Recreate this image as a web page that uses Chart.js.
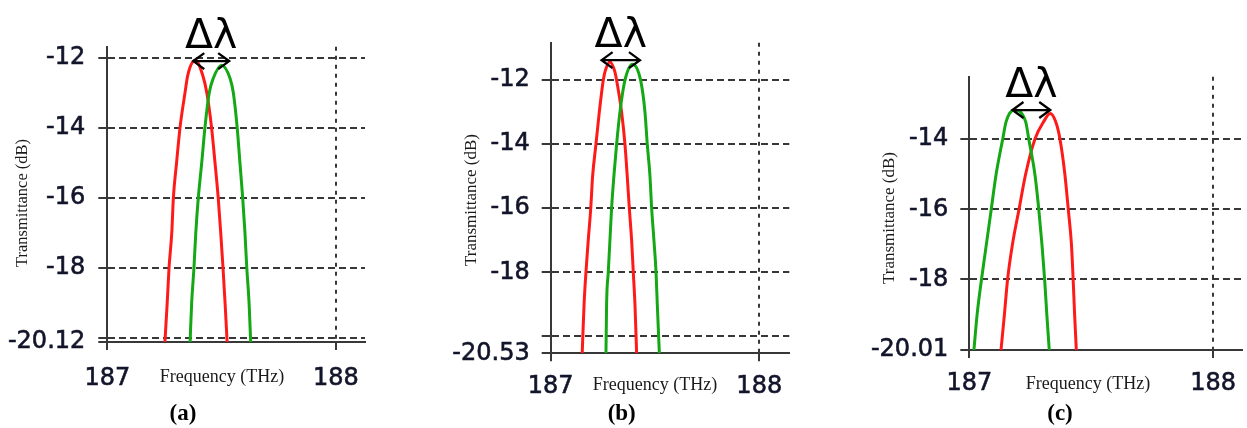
<!DOCTYPE html>
<html>
<head>
<meta charset="utf-8">
<title>Transmittance spectra</title>
<script src="https://cdn.jsdelivr.net/npm/chart.js@4.4.1/dist/chart.umd.min.js"></script>
<style>
    html, body { margin: 0; padding: 0; background: #fff; }
    body { width: 1247px; height: 428px; position: relative; overflow: hidden; }
    canvas { position: absolute; top: 0; }
</style>
</head>
<body>
<canvas id="chartA" width="400" height="428" style="left:0px"></canvas>
<canvas id="chartB" width="400" height="428" style="left:420px"></canvas>
<canvas id="chartC" width="407" height="428" style="left:840px"></canvas>
<script>
// ================= DATA =================

const xTicks = [187, 188];

// panel (a)
const freqA_red = [187.252, 187.262, 187.270, 187.282, 187.289, 187.303, 187.318, 187.340, 187.352, 187.385, 187.417, 187.435, 187.456, 187.471, 187.485, 187.496, 187.506, 187.515, 187.524];
const transA_red = [-20.12, -19, -18, -17, -16, -15, -14, -13, -12.5, -12.08, -12.5, -13, -14, -15, -16, -17, -18, -19, -20.12];
const freqA_green = [187.362, 187.369, 187.379, 187.387, 187.398, 187.413, 187.427, 187.446, 187.463, 187.500, 187.537, 187.551, 187.568, 187.580, 187.592, 187.602, 187.610, 187.620, 187.627];
const transA_green = [-20.12, -19, -18, -17, -16, -15, -14, -13, -12.6, -12.22, -12.6, -13, -14, -15, -16, -17, -18, -19, -20.12];
const yTicksA = [-20.12, -20, -18, -16, -14, -12];
const yLabelsA = ["-20.12", "", "-18", "-16", "-14", "-12"];
const deltaA = [187.376, 187.533];
const deltaLevelA = -12.1;

// panel (b)
const freqB_red = [187.151, 187.160, 187.169, 187.180, 187.192, 187.201, 187.217, 187.233, 187.252, 187.262, 187.284, 187.306, 187.316, 187.340, 187.356, 187.367, 187.377, 187.388, 187.396, 187.404, 187.412];
const transB_red = [-20.53, -19, -18, -17, -16, -15, -14, -13, -12, -11.7, -11.43, -11.7, -12, -13, -14, -15, -16, -17, -18, -19, -20.53];
const freqB_green = [187.265, 187.268, 187.276, 187.284, 187.292, 187.303, 187.316, 187.332, 187.356, 187.393, 187.431, 187.452, 187.463, 187.476, 187.484, 187.495, 187.505, 187.511, 187.521];
const transB_green = [-20.53, -19, -18, -17, -16, -15, -14, -13, -12, -11.5, -12, -13, -14, -15, -16, -17, -18, -19, -20.53];
const yTicksB = [-20.53, -20, -18, -16, -14, -12];
const yLabelsB = ["-20.53", "", "-18", "-16", "-14", "-12"];
const deltaB = [187.244, 187.428];
const deltaLevelB = -11.375;

// panel (c)
const freqC_green = [187.019, 187.032, 187.050, 187.070, 187.090, 187.110, 187.137, 187.151, 187.184, 187.231, 187.244, 187.269, 187.285, 187.298, 187.309, 187.318, 187.328];
const transC_green = [-20.01, -19, -18, -17, -16, -15, -14, -13.5, -13.17, -13.5, -14, -15, -16, -17, -18, -19, -20.01];
const freqC_red = [187.130, 187.144, 187.157, 187.177, 187.204, 187.231, 187.269, 187.305, 187.332, 187.354, 187.372, 187.392, 187.406, 187.419, 187.426, 187.432, 187.439];
const transC_red = [-20.01, -19, -18, -17, -16, -15, -14, -13.5, -13.27, -13.5, -14, -15, -16, -17, -18, -19, -20.01];
const yTicksC = [-20.01, -18, -16, -14];
const yLabelsC = ["-20.01", "-18", "-16", "-14"];
const deltaC = [187.177, 187.332];
const deltaLevelC = -13.17;

// ================= STYLE =================

const TICK_FONT = { family: "'DejaVu Sans', Verdana, sans-serif", size: 24 };
const INK = "#12152a";
const GRID = "#383838";
const RED = "#ff1a1a";
const GREEN = "#14a814";

function toPoints(freqs, vals) {
    return freqs.map((f, i) => ({ x: f, y: vals[i] }));
}

// texts + delta-lambda arrow drawn on top of each panel
const panelText = {
    id: "panelText",
    afterDraw(chart, args, opts) {
        const ctx = chart.ctx;
        const xs = chart.scales.x;
        const ys = chart.scales.y;

        ctx.save();
        ctx.fillStyle = "#1a1a1a";
        ctx.textAlign = "center";
        ctx.textBaseline = "middle";

        // y title
        ctx.save();
        ctx.font = `${opts.yTitleSize}px 'Liberation Serif', 'Times New Roman', serif`;
        ctx.translate(opts.yTitle[0], opts.yTitle[1]);
        ctx.rotate(-Math.PI / 2);
        ctx.fillText("Transmittance (dB)", 0, 0);
        ctx.restore();

        // x title
        ctx.font = "18px 'Liberation Serif', 'Times New Roman', serif";
        ctx.fillText("Frequency (THz)", opts.xTitle[0], opts.xTitle[1]);

        // panel letter
        ctx.fillStyle = "#000";
        ctx.font = "bold 23px 'Liberation Serif', 'Times New Roman', serif";
        ctx.fillText(opts.letter, opts.letterPos[0], opts.letterPos[1]);

        // delta lambda arrow
        const x1 = xs.getPixelForValue(opts.delta[0]);
        const x2 = xs.getPixelForValue(opts.delta[1]);
        const y = ys.getPixelForValue(opts.deltaLevel);
        ctx.strokeStyle = "#000";
        ctx.lineWidth = 2.3;
        ctx.beginPath();
        ctx.moveTo(x1, y);
        ctx.lineTo(x2, y);
        ctx.moveTo(x1 + 11, y - 8);
        ctx.lineTo(x1, y);
        ctx.lineTo(x1 + 11, y + 8);
        ctx.moveTo(x2 - 11, y - 8);
        ctx.lineTo(x2, y);
        ctx.lineTo(x2 - 11, y + 8);
        ctx.stroke();

        ctx.font = "41px 'DejaVu Sans', sans-serif";
        ctx.textBaseline = "alphabetic";
        ctx.fillText("\u0394\u03bb", (x1 + x2) / 2, y - 13);
        ctx.restore();
    },
};

// ================= CHARTS =================

function makePanel(id, cfg) {
    const line = (data, color) => ({
        data,
        showLine: true,
        borderColor: color,
        borderWidth: 3,
        pointRadius: 0,
        cubicInterpolationMode: "monotone",
    });

    const tickOpts = { font: TICK_FONT, color: INK, textStrokeColor: INK, textStrokeWidth: 0.6, autoSkip: false };

    return new Chart(document.getElementById(id), {
        type: "scatter",
        data: {
            datasets: [line(cfg.green, GREEN), line(cfg.red, RED)],
        },
        options: {
            responsive: false,
            animation: false,
            layout: { padding: { left: 0, top: cfg.top, right: cfg.right, bottom: 0 } },
            plugins: {
                legend: { display: false },
                tooltip: { enabled: false },
                panelText: cfg.text,
            },
            scales: {
                x: {
                    type: "linear",
                    min: 187,
                    max: cfg.xMax,
                    afterBuildTicks: (s) => { s.ticks = xTicks.map((v) => ({ value: v })); },
                    afterFit: (s) => { s.height = cfg.xAxisH; },
                    ticks: { ...tickOpts, padding: cfg.xPad, maxRotation: 0, callback: (v) => String(v) },
                    grid: { color: GRID, lineWidth: 2, tickLength: 8, tickColor: GRID, tickWidth: 2 },
                    border: { color: GRID, width: 2, dash: [4, 5] },
                },
                y: {
                    type: "linear",
                    min: cfg.yMin,
                    max: cfg.yMax,
                    afterBuildTicks: (s) => { s.ticks = cfg.yTicks.map((v) => ({ value: v })); },
                    afterFit: (s) => { s.width = cfg.yAxisW; },
                    ticks: { ...tickOpts, padding: cfg.yPad, callback: (v, i) => cfg.yLabels[i] },
                    grid: { color: GRID, lineWidth: 2, tickLength: 9, tickColor: GRID, tickWidth: 2 },
                    border: { color: GRID, width: 2, dash: [7, 4] },
                },
            },
        },
        plugins: [panelText],
    });
}

makePanel("chartA", {
    red: toPoints(freqA_red, transA_red),
    green: toPoints(freqA_green, transA_green),
    yTicks: yTicksA, yLabels: yLabelsA,
    yMin: -20.12, yMax: -11.69, xMax: 188.127,
    top: 46.7, right: 35, xAxisH: 86, yAxisW: 107.3, xPad: 14, yPad: 13,
    text: { yTitle: [22.7, 203], yTitleSize: 16.5, xTitle: [222, 377], letter: "(a)", letterPos: [183, 414], delta: deltaA, deltaLevel: deltaLevelA },
});

makePanel("chartB", {
    red: toPoints(freqB_red, transB_red),
    green: toPoints(freqB_green, transB_green),
    yTicks: yTicksB, yLabels: yLabelsB,
    yMin: -20.53, yMax: -10.83, xMax: 188.144,
    top: 42.7, right: 30.7, xAxisH: 74.7, yAxisW: 130.7, xPad: 11, yPad: 12,
    text: { yTitle: [51.7, 200], yTitleSize: 17, xTitle: [235, 385], letter: "(b)", letterPos: [201.7, 414], delta: deltaB, deltaLevel: deltaLevelB },
});

makePanel("chartC", {
    red: toPoints(freqC_red, transC_red),
    green: toPoints(freqC_green, transC_green),
    yTicks: yTicksC, yLabels: yLabelsC,
    yMin: -20.01, yMax: -12.22, xMax: 188.118,
    top: 76.7, right: 0, xAxisH: 78, yAxisW: 129.3, xPad: 11, yPad: 12,
    text: { yTitle: [50, 218], yTitleSize: 17, xTitle: [248, 384], letter: "(c)", letterPos: [220, 414], delta: deltaC, deltaLevel: deltaLevelC },
});
</script>
</body>
</html>
